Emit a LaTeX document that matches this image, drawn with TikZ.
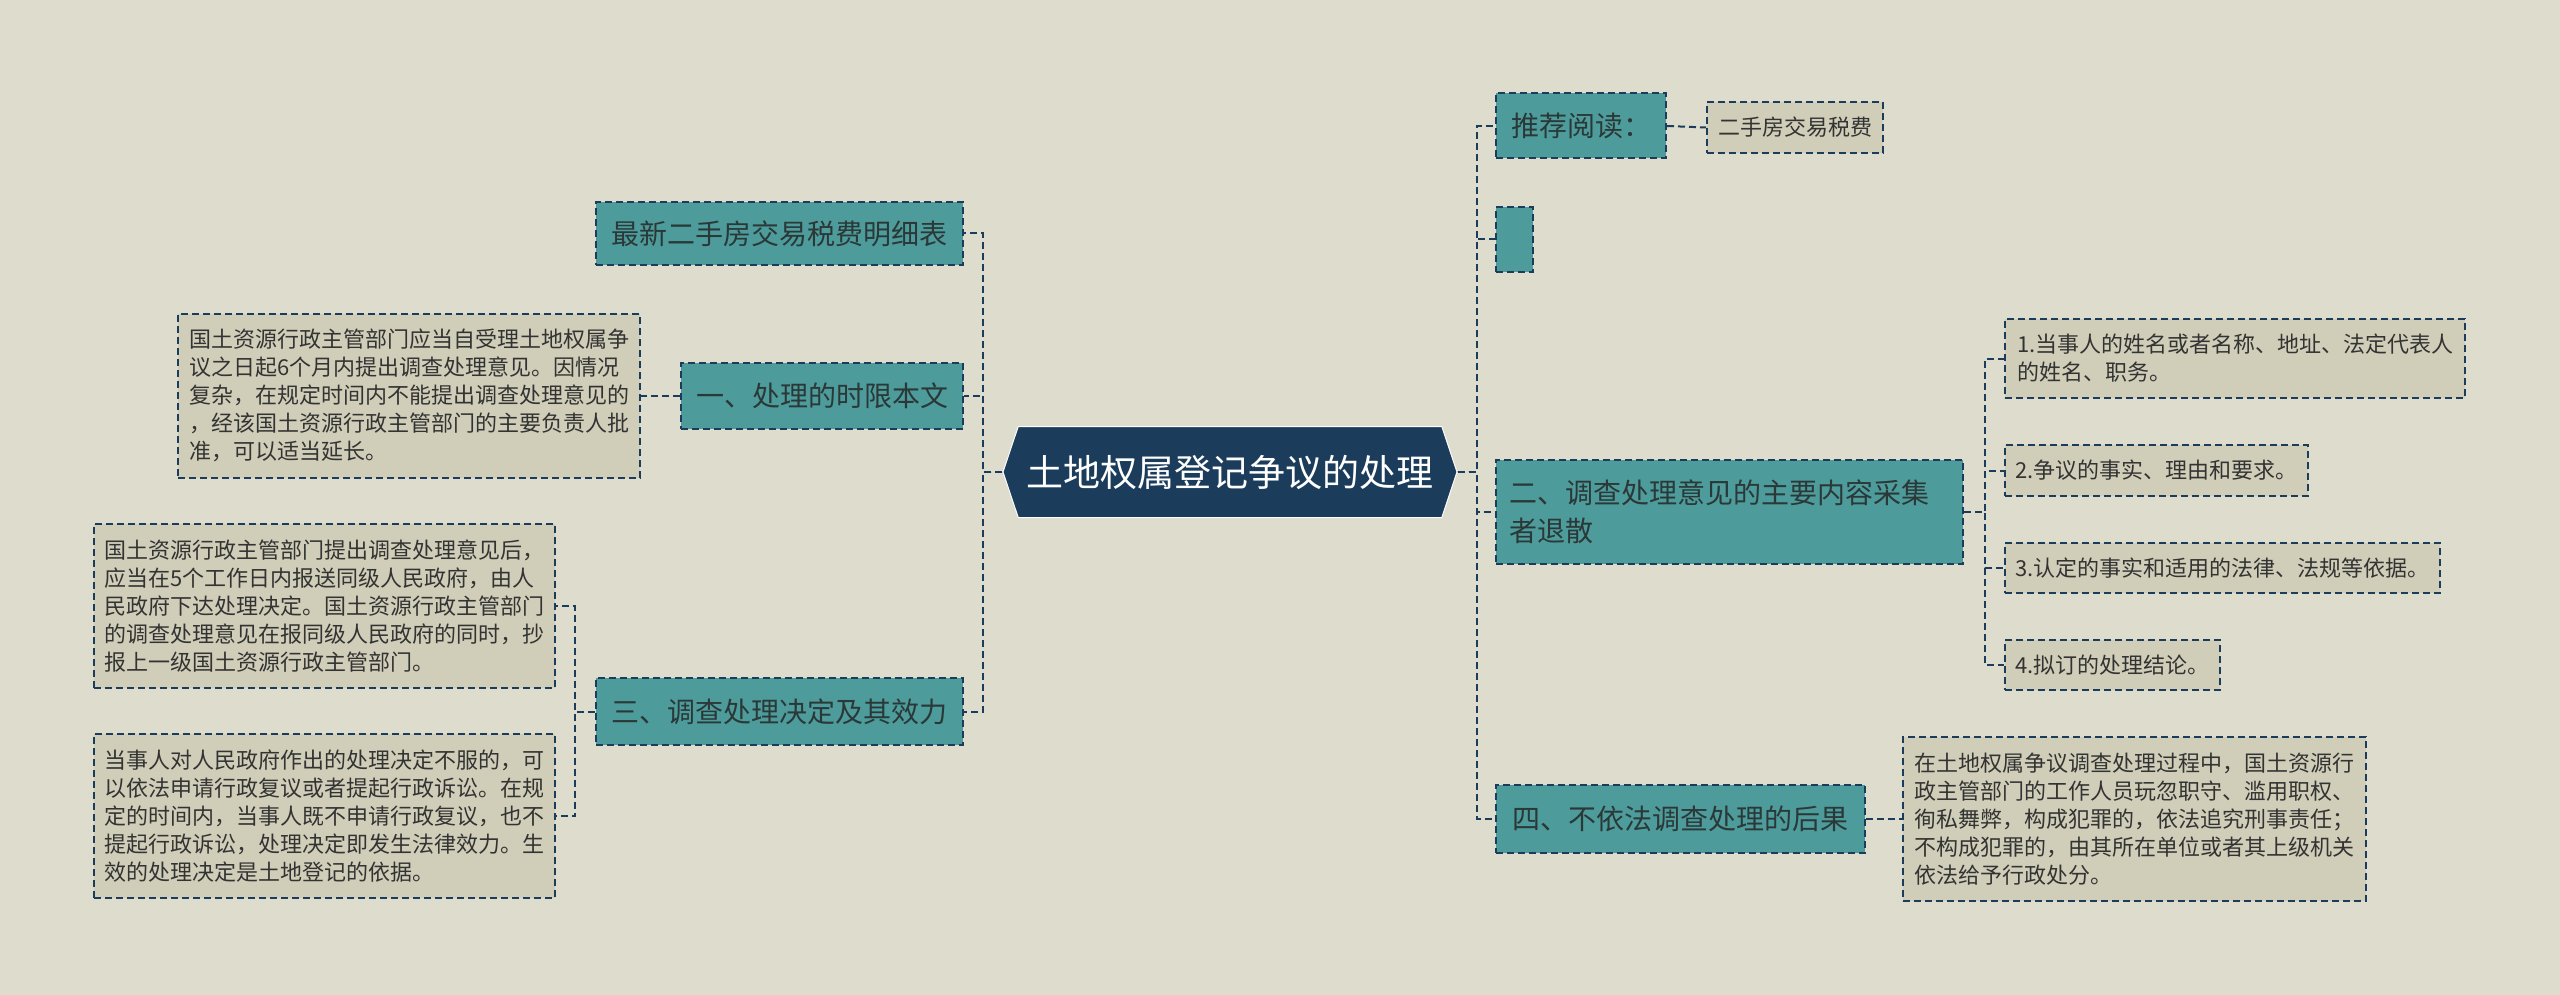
\documentclass[tikz,border=0pt]{standalone}
\usepackage{fontspec}
\setmainfont{Noto Sans CJK SC}
\usetikzlibrary{shapes.symbols}

\definecolor{bgcol}{HTML}{DEDDCD}
\definecolor{navy}{HTML}{1B3D5B}
\definecolor{tealfill}{HTML}{4E9B9B}
\definecolor{leaffill}{HTML}{D0CEB8}
\definecolor{darktext}{HTML}{2A3838}

\begin{document}
\begin{tikzpicture}[x=1pt,y=-1pt,
rootblock/.style={signal,signal to=west and east,signal pointer angle=143,fill=navy,draw=white,line width=1pt,text=white,minimum width=454pt,minimum height=91pt,inner sep=0pt,font=\fontsize{37}{44}\selectfont},
topicblock/.style={draw=navy,fill=tealfill,dash pattern=on 7pt off 4pt,line width=2pt,text=darktext,inner sep=0pt,align=left,font=\fontsize{28}{38}\selectfont},
leafblock/.style={draw=navy,fill=leaffill,dash pattern=on 7pt off 4pt,line width=2pt,text=black!80,inner sep=0pt,align=left,font=\fontsize{22}{28}\selectfont},
link/.style={draw=navy,line width=2pt,dash pattern=on 7pt off 4pt}]

\fill[bgcol] (0,0) rectangle (2560,995);
\useasboundingbox (0,0) rectangle (2560,995);

\draw (1230,472) node[rootblock] (root) {土地权属登记争议的处理};

% left side
\draw (779.5,233.5) node[topicblock,minimum width=367pt,minimum height=63pt] (n0) {最新二手房交易税费明细表};
\draw (822,395.5) node[topicblock,minimum width=282pt,minimum height=66pt] (n1) {一、处理的时限本文};
\draw (779.5,711.5) node[topicblock,minimum width=367pt,minimum height=67pt] (n3) {三、调查处理决定及其效力};

\draw (409,395.5) node[leafblock,minimum width=462pt,minimum height=164pt] (l1) {国土资源行政主管部门应当自受理土地权属争\\议之日起6个月内提出调查处理意见。因情况\\复杂，在规定时间内不能提出调查处理意见的\\，经该国土资源行政主管部门的主要负责人批\\准，可以适当延长。};
\draw (324.5,606) node[leafblock,minimum width=461pt,minimum height=164pt] (l3a) {国土资源行政主管部门提出调查处理意见后，\\应当在5个工作日内报送同级人民政府，由人\\民政府下达处理决定。国土资源行政主管部门\\的调查处理意见在报同级人民政府的同时，抄\\报上一级国土资源行政主管部门。};
\draw (324.5,816) node[leafblock,minimum width=461pt,minimum height=164pt] (l3b) {当事人对人民政府作出的处理决定不服的，可\\以依法申请行政复议或者提起行政诉讼。在规\\定的时间内，当事人既不申请行政复议，也不\\提起行政诉讼，处理决定即发生法律效力。生\\效的处理决定是土地登记的依据。};

% right side
\draw (1581,126) node[topicblock,minimum width=170pt,minimum height=65pt] (r0) {推荐阅读：};
\draw (1795,127.5) node[leafblock,minimum width=176pt,minimum height=51pt] (r0leaf) {二手房交易税费};
\draw (1514.5,239.5) node[topicblock,minimum width=37pt,minimum height=65pt] (r1) {};
\draw (1729.5,512) node[topicblock,minimum width=467pt,minimum height=104pt,text width=440pt] (r2) {二、调查处理意见的主要内容采集\\者退散};
\draw (1680.5,819) node[topicblock,minimum width=369pt,minimum height=68pt] (r4) {四、不依法调查处理的后果};

\draw (2235,358.5) node[leafblock,minimum width=460pt,minimum height=79pt,text width=436pt] (r2a) {1.当事人的姓名或者名称、地址、法定代表人\\的姓名、职务。};
\draw (2156.5,470.5) node[leafblock,minimum width=303pt,minimum height=51pt] (r2b) {2.争议的事实、理由和要求。};
\draw (2222.5,568) node[leafblock,minimum width=435pt,minimum height=50pt] (r2c) {3.认定的事实和适用的法律、法规等依据。};
\draw (2112.5,665) node[leafblock,minimum width=215pt,minimum height=50pt] (r2d) {4.拟订的处理结论。};
\draw (2134.5,819) node[leafblock,minimum width=463pt,minimum height=164pt] (r4leaf) {在土地权属争议调查处理过程中，国土资源行\\政主管部门的工作人员玩忽职守、滥用职权、\\徇私舞弊，构成犯罪的，依法追究刑事责任；\\不构成犯罪的，由其所在单位或者其上级机关\\依法给予行政处分。};

% connectors
\draw[link] (root.180) -- ++(-19,0) |- (n0.0);
\draw[link] (root.180) -- ++(-19,0) |- (n1.0);
\draw[link] (root.180) -- ++(-19,0) |- (n3.0);
\draw[link] (n1.180) -- (l1.0);
\draw[link] (n3.180) -- ++(-20,0) |- (l3a.0);
\draw[link] (n3.180) -- ++(-20,0) |- (l3b.0);

\draw[link] (root.0) -- ++(19,0) |- (r0.180);
\draw[link] (root.0) -- ++(19,0) |- (r1.180);
\draw[link] (root.0) -- ++(19,0) |- (r2.180);
\draw[link] (root.0) -- ++(19,0) |- (r4.180);
\draw[link] (r0.0) -- (r0leaf.180);
\draw[link] (r2.0) -- ++(21,0) |- (r2a.180);
\draw[link] (r2.0) -- ++(21,0) |- (r2b.180);
\draw[link] (r2.0) -- ++(21,0) |- (r2c.180);
\draw[link] (r2.0) -- ++(21,0) |- (r2d.180);
\draw[link] (r4.0) -- (r4leaf.180);
\end{tikzpicture}
\end{document}
